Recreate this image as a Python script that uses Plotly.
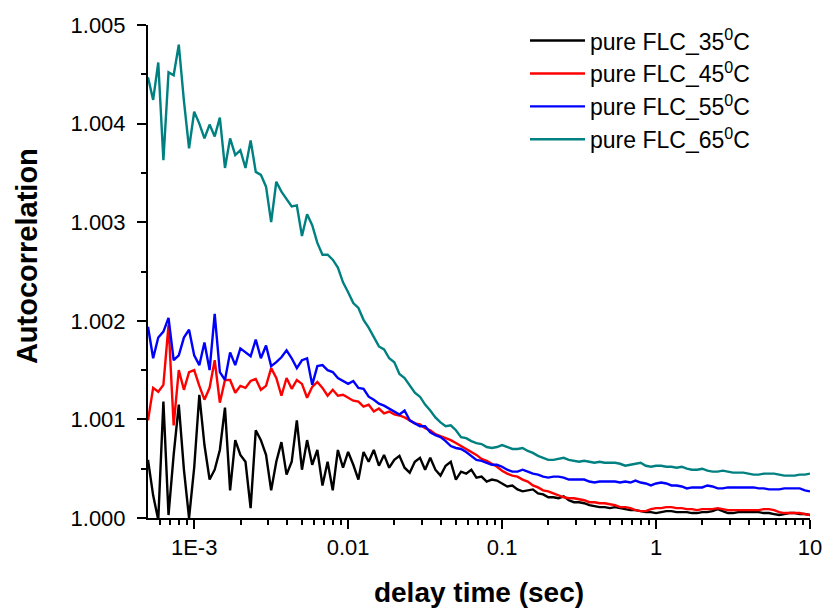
import plotly.graph_objects as go

# delay times (s), quasi-logarithmic correlator lag grid
delay_s = [
    5.012e-4, 5.412e-4, 5.843e-4, 6.310e-4, 6.813e-4, 7.356e-4, 7.943e-4, 8.577e-4, 9.261e-4,
    1.000e-3, 1.080e-3, 1.166e-3, 1.259e-3, 1.359e-3, 1.468e-3, 1.585e-3, 1.711e-3, 1.848e-3, 1.995e-3,
    2.154e-3, 2.326e-3, 2.512e-3, 2.712e-3, 2.929e-3, 3.162e-3, 3.415e-3, 3.687e-3, 3.981e-3, 4.299e-3,
    4.642e-3, 5.012e-3, 5.412e-3, 5.843e-3, 6.310e-3, 6.813e-3, 7.356e-3, 7.943e-3, 8.577e-3, 9.261e-3,
    1.000e-2, 1.080e-2, 1.166e-2, 1.259e-2, 1.359e-2, 1.468e-2, 1.585e-2, 1.711e-2, 1.848e-2, 1.995e-2,
    2.154e-2, 2.326e-2, 2.512e-2, 2.712e-2, 2.929e-2, 3.162e-2, 3.415e-2, 3.687e-2, 3.981e-2, 4.299e-2,
    4.642e-2, 5.012e-2, 5.412e-2, 5.843e-2, 6.310e-2, 6.813e-2, 7.356e-2, 7.943e-2, 8.577e-2, 9.261e-2,
    1.000e-1, 1.080e-1, 1.166e-1, 1.259e-1, 1.359e-1, 1.468e-1, 1.585e-1, 1.711e-1, 1.848e-1, 1.995e-1,
    2.154e-1, 2.326e-1, 2.512e-1, 2.712e-1, 2.929e-1, 3.162e-1, 3.415e-1, 3.687e-1, 3.981e-1, 4.299e-1,
    4.642e-1, 5.012e-1, 5.412e-1, 5.843e-1, 6.310e-1, 6.813e-1, 7.356e-1, 7.943e-1, 8.577e-1, 9.261e-1,
    1.000, 1.080, 1.166, 1.259, 1.359, 1.468, 1.585, 1.711, 1.848, 1.995,
    2.154, 2.326, 2.512, 2.712, 2.929, 3.162, 3.415, 3.687, 3.981, 4.299,
    4.642, 5.012, 5.412, 5.843, 6.310, 6.813, 7.356, 7.943, 8.577, 9.261,
    10.00,
]

flc_35C = [
    1.00059, 1.00023, 0.99998, 1.00118, 1.00003, 1.00064, 1.00115, 1.00049, 1.00000,
    1.00051, 1.00125, 1.00074, 1.00039, 1.00049, 1.00069, 1.00112, 1.00028, 1.00079, 1.00064,
    1.00057, 1.00010, 1.00089, 1.00079, 1.00064, 1.00028, 1.00057, 1.00077, 1.00044, 1.00057,
    1.00099, 1.00049, 1.00079, 1.00054, 1.00069, 1.00033, 1.00057, 1.00028, 1.00069, 1.00051,
    1.00067, 1.00054, 1.00039, 1.00067, 1.00057, 1.00069, 1.00053, 1.00064, 1.00051, 1.00059,
    1.00063, 1.00051, 1.00046, 1.00057, 1.00061, 1.00049, 1.00061, 1.00049, 1.00043, 1.00053,
    1.00057, 1.00039, 1.00047, 1.00045, 1.00049, 1.00041, 1.00042, 1.00037, 1.00039, 1.00038,
    1.00035, 1.00032, 1.00033, 1.00029, 1.00027, 1.00028, 1.00029, 1.00025, 1.00024, 1.00021,
    1.00021, 1.00020, 1.00022, 1.00018, 1.00016, 1.00016, 1.00015, 1.00013, 1.00012, 1.00011,
    1.00011, 1.00010, 1.00011, 1.00010, 1.00009, 1.00008, 1.00008, 1.00007, 1.00006, 1.00006,
    1.00005, 1.00006, 1.00007, 1.00007, 1.00006, 1.00006, 1.00006, 1.00005, 1.00005, 1.00006,
    1.00006, 1.00007, 1.00009, 1.00007, 1.00005, 1.00005, 1.00006, 1.00006, 1.00006, 1.00006,
    1.00006, 1.00005, 1.00005, 1.00004, 1.00003, 1.00004, 1.00005, 1.00005, 1.00004, 1.00004,
    1.00003,
]

flc_45C = [
    1.00099, 1.00132, 1.00128, 1.00135, 1.00196, 1.00094, 1.00150, 1.00130, 1.00148,
    1.00150, 1.00134, 1.00120, 1.00132, 1.00160, 1.00117, 1.00140, 1.00140, 1.00127, 1.00134,
    1.00132, 1.00139, 1.00141, 1.00130, 1.00134, 1.00152, 1.00142, 1.00124, 1.00142, 1.00131,
    1.00140, 1.00136, 1.00122, 1.00133, 1.00138, 1.00132, 1.00124, 1.00130, 1.00124, 1.00125,
    1.00122, 1.00119, 1.00118, 1.00113, 1.00115, 1.00108, 1.00111, 1.00106, 1.00108, 1.00105,
    1.00104, 1.00102, 1.00099, 1.00096, 1.00095, 1.00091, 1.00089, 1.00085, 1.00083, 1.00081,
    1.00079, 1.00076, 1.00073, 1.00070, 1.00067, 1.00064, 1.00060, 1.00058, 1.00055, 1.00052,
    1.00048, 1.00045, 1.00043, 1.00042, 1.00039, 1.00037, 1.00033, 1.00031, 1.00028, 1.00027,
    1.00025, 1.00023, 1.00021, 1.00020, 1.00020, 1.00019, 1.00018, 1.00016, 1.00016, 1.00015,
    1.00015, 1.00014, 1.00013, 1.00011, 1.00011, 1.00010, 1.00008, 1.00007, 1.00007, 1.00009,
    1.00010, 1.00010, 1.00011, 1.00011, 1.00010, 1.00010, 1.00009, 1.00009, 1.00008, 1.00009,
    1.00009, 1.00009, 1.00010, 1.00009, 1.00008, 1.00008, 1.00008, 1.00008, 1.00008, 1.00008,
    1.00008, 1.00009, 1.00009, 1.00008, 1.00006, 1.00005, 1.00005, 1.00005, 1.00005, 1.00004,
    1.00003,
]

flc_55C = [
    1.00194, 1.00162, 1.00183, 1.00189, 1.00203, 1.00160, 1.00165, 1.00183, 1.00191,
    1.00165, 1.00155, 1.00178, 1.00150, 1.00207, 1.00148, 1.00140, 1.00168, 1.00155, 1.00172,
    1.00168, 1.00164, 1.00181, 1.00162, 1.00175, 1.00154, 1.00158, 1.00163, 1.00170, 1.00162,
    1.00152, 1.00160, 1.00162, 1.00135, 1.00154, 1.00155, 1.00150, 1.00148, 1.00142, 1.00139,
    1.00136, 1.00139, 1.00132, 1.00131, 1.00123, 1.00120, 1.00116, 1.00114, 1.00111, 1.00108,
    1.00105, 1.00109, 1.00099, 1.00096, 1.00093, 1.00093, 1.00087, 1.00084, 1.00082, 1.00078,
    1.00073, 1.00071, 1.00070, 1.00067, 1.00063, 1.00059, 1.00058, 1.00056, 1.00054, 1.00054,
    1.00052, 1.00049, 1.00047, 1.00047, 1.00049, 1.00047, 1.00045, 1.00044, 1.00042, 1.00041,
    1.00042, 1.00042, 1.00041, 1.00039, 1.00039, 1.00039, 1.00039, 1.00037, 1.00036, 1.00037,
    1.00037, 1.00037, 1.00037, 1.00036, 1.00037, 1.00036, 1.00038, 1.00036, 1.00035, 1.00033,
    1.00035, 1.00036, 1.00035, 1.00033, 1.00033, 1.00032, 1.00030, 1.00031, 1.00031, 1.00031,
    1.00033, 1.00032, 1.00030, 1.00030, 1.00031, 1.00031, 1.00031, 1.00031, 1.00031, 1.00031,
    1.00030, 1.00030, 1.00029, 1.00029, 1.00029, 1.00030, 1.00030, 1.00030, 1.00030, 1.00028,
    1.00027,
]

flc_65C = [
    1.00447, 1.00424, 1.00462, 1.00363, 1.00452, 1.00449, 1.00480, 1.00423, 1.00375,
    1.00412, 1.00400, 1.00385, 1.00399, 1.00387, 1.00406, 1.00355, 1.00385, 1.00368, 1.00373,
    1.00355, 1.00383, 1.00351, 1.00348, 1.00336, 1.00300, 1.00341, 1.00331, 1.00323, 1.00316,
    1.00317, 1.00286, 1.00308, 1.00297, 1.00279, 1.00267, 1.00267, 1.00262, 1.00254, 1.00239,
    1.00229, 1.00218, 1.00213, 1.00201, 1.00193, 1.00184, 1.00174, 1.00171, 1.00162, 1.00158,
    1.00146, 1.00142, 1.00134, 1.00127, 1.00123, 1.00115, 1.00109, 1.00102, 1.00097, 1.00093,
    1.00094, 1.00089, 1.00082, 1.00081, 1.00078, 1.00076, 1.00075, 1.00072, 1.00071, 1.00072,
    1.00074, 1.00072, 1.00070, 1.00070, 1.00071, 1.00068, 1.00066, 1.00063, 1.00061, 1.00059,
    1.00059, 1.00060, 1.00061, 1.00059, 1.00058, 1.00057, 1.00058, 1.00057, 1.00056, 1.00057,
    1.00056, 1.00056, 1.00056, 1.00055, 1.00053, 1.00054, 1.00055, 1.00056, 1.00053, 1.00052,
    1.00053, 1.00053, 1.00052, 1.00052, 1.00051, 1.00052, 1.00050, 1.00049, 1.00049, 1.00050,
    1.00048, 1.00047, 1.00047, 1.00048, 1.00047, 1.00046, 1.00046, 1.00046, 1.00045, 1.00044,
    1.00044, 1.00045, 1.00045, 1.00045, 1.00044, 1.00043, 1.00043, 1.00043, 1.00044, 1.00044,
    1.00045,
]

series_names = [
    "pure FLC_35<sup>0</sup>C",
    "pure FLC_45<sup>0</sup>C",
    "pure FLC_55<sup>0</sup>C",
    "pure FLC_65<sup>0</sup>C",
]
series_values = [flc_35C, flc_45C, flc_55C, flc_65C]
series_colors = ["#000000", "#ff0000", "#0000ff", "#008080"]

x_tick_vals = [1e-3, 1e-2, 1e-1, 1, 10]
x_tick_text = ["1E-3", "0.01", "0.1", "1", "10"]
x_minor_vals = [m * d for d in [1e-4, 1e-3, 1e-2, 1e-1, 1] for m in range(2, 10)]
y_tick_vals = [1.000, 1.001, 1.002, 1.003, 1.004, 1.005]
y_tick_text = ["1.000", "1.001", "1.002", "1.003", "1.004", "1.005"]

FONT = "Liberation Sans, Arial, Helvetica, sans-serif"

fig = go.Figure()
for i, (name, vals, col) in enumerate(zip(series_names, series_values, series_colors)):
    fig.add_trace(go.Scatter(
        x=delay_s, y=vals, mode="lines", name=name,
        line=dict(color=col, width=2.4), legendgroup=f"g{i}",
    ))

fig.add_annotation(
    text="<b>Autocorrelation</b>", textangle=-90,
    xref="paper", yref="paper", x=-0.183, y=0.531,
    xanchor="center", yanchor="middle", showarrow=False,
    font=dict(family=FONT, size=29, color="black"),
)

fig.update_layout(
    width=824, height=610,
    margin=dict(l=148, r=14, t=25, b=92, autoexpand=False),
    paper_bgcolor="white", plot_bgcolor="white",
    font=dict(family=FONT, color="black", size=22),
    showlegend=True,
    legend=dict(
        x=0.5695, y=1.012, xanchor="left", yanchor="top",
        bgcolor="rgba(0,0,0,0)", borderwidth=0,
        font=dict(family=FONT, size=23, color="black"),
        tracegroupgap=0, itemwidth=55,
    ),
    xaxis=dict(
        type="log", range=[-3.3, 1.0],
        tickmode="array", tickvals=x_tick_vals, ticktext=x_tick_text,
        ticks="outside", ticklen=9, tickwidth=2, tickcolor="black",
        showline=True, linewidth=2, linecolor="black",
        showgrid=False, zeroline=False, mirror=False,
        tickfont=dict(family=FONT, size=22, color="black"),
        minor=dict(tickmode="array", tickvals=x_minor_vals, ticks="outside",
                   ticklen=5, tickwidth=1.5, tickcolor="black", showgrid=False),
        title=dict(text="<b>delay time (sec)</b>", standoff=23,
                   font=dict(family=FONT, size=28, color="black")),
    ),
    yaxis=dict(
        range=[1.000, 1.005],
        tickmode="array", tickvals=y_tick_vals, ticktext=y_tick_text,
        ticks="outside", ticklen=9, tickwidth=2, tickcolor="black",
        ticklabelstandoff=7,
        showline=True, linewidth=2, linecolor="black",
        showgrid=False, zeroline=False, mirror=False,
        tickfont=dict(family=FONT, size=22, color="black"),
        minor=dict(dtick=0.0005, ticks="outside", ticklen=5, tickwidth=1.5,
                   tickcolor="black", showgrid=False),
    ),
)

# remove the browser's default 8px page margin so the figure sits at (0, 0)
fig.write_html(
    "out.html",
    config={"displayModeBar": False},
    post_script="document.body.style.margin='0';",
)
